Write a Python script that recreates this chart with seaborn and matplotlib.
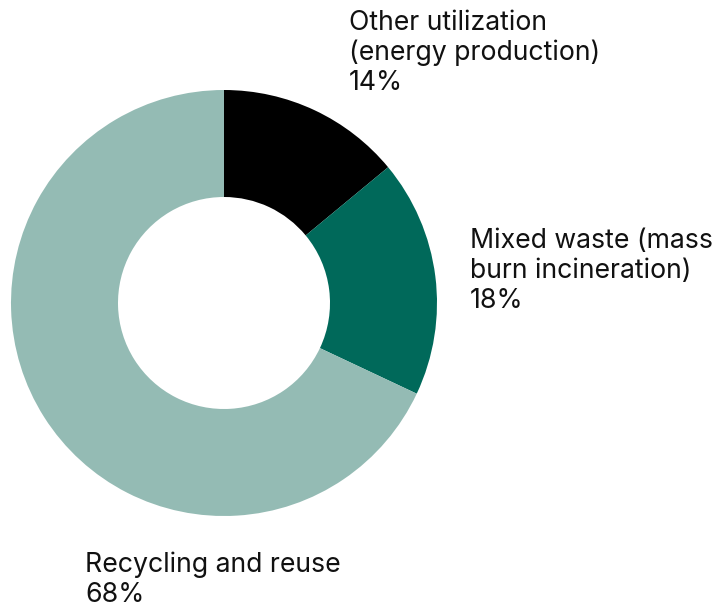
import matplotlib
matplotlib.use("Agg")
import matplotlib.pyplot as plt
import seaborn as sns

sns.set_theme(style="white")
plt.rcParams['font.family'] = ['Inter', 'DejaVu Sans']

categories = ["Other utilization\n(energy production)", "Mixed waste (mass\nburn incineration)", "Recycling and reuse"]
shares = [14, 18, 68]
colors = ["#000000", "#00695A", "#94BBB4"]

W, H = 715, 607
fig = plt.figure(figsize=(W / 100, H / 100), dpi=100)
ax = fig.add_axes([0, 0, 1, 1])
ax.pie(shares, colors=colors, startangle=90, counterclock=False,
       center=(224, H - 303), radius=213,
       wedgeprops=dict(width=107, linewidth=0))
ax.set_xlim(0, W)
ax.set_ylim(0, H)
ax.set_aspect('equal')
ax.axis('off')

# label anchors: (left x, first baseline y) in pixels from top
anchors = [(349, 30), (470, 248), (85, 572)]
line_gap = 30
for cat, val, (x, y) in zip(categories, shares, anchors):
    lines = cat.split("\n") + [f"{val}%"]
    for i, ln in enumerate(lines):
        ax.text(x, H - (y + i * line_gap), ln, ha='left', va='baseline',
                fontsize=19.2, color='#111111')

fig.savefig("out.png", dpi=100)
